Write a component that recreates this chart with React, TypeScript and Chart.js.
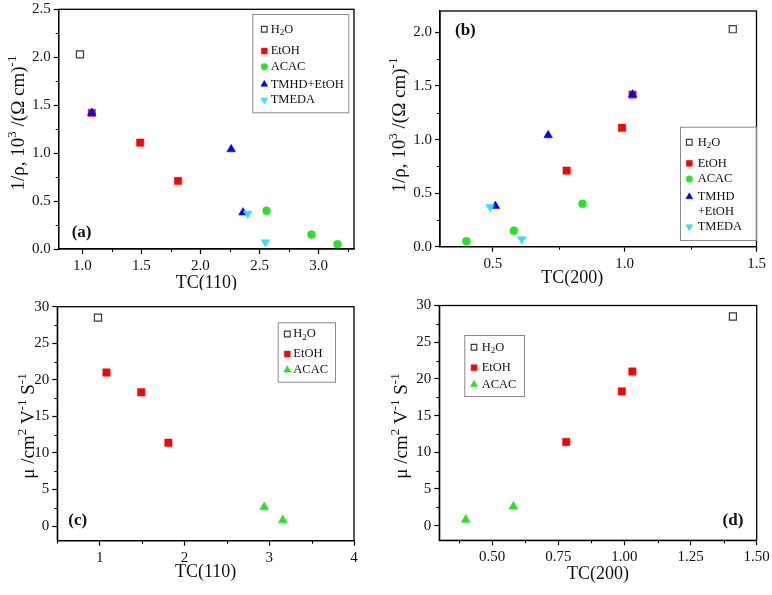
import React, { useEffect, useRef } from 'react';
import { Chart, registerables } from 'chart.js';
import { drawPoint } from 'chart.js/helpers';

Chart.register(...registerables);

// ---------------- data ----------------
const seriesNames = ['H₂O', 'EtOH', 'ACAC', 'TMHD+EtOH', 'TMEDA'];

// TC(110) of each sample
const tc110_H2O = [0.98];
const tc110_EtOH = [1.08, 1.49, 1.81];
const tc110_ACAC = [2.56, 2.94, 3.16];
const tc110_TMHD = [1.08, 2.26, 2.36];
const tc110_TMEDA = [2.40, 2.55];

// TC(200) of each sample
const tc200_H2O = [1.41];
const tc200_EtOH = [1.03, 0.99, 0.78];
const tc200_ACAC = [0.84, 0.58, 0.40];
const tc200_TMHD = [1.03, 0.71, 0.51];
const tc200_TMEDA = [0.49, 0.61];

// conductivity 1/rho, 10^3 (Ohm cm)^-1
const cond_H2O = [2.03];
const cond_EtOH = [1.42, 1.11, 0.71];
const cond_ACAC = [0.40, 0.15, 0.05];
const cond_TMHD = [1.42, 1.04, 0.38];
const cond_TMEDA = [0.37, 0.07];

// mobility cm^2 V^-1 s^-1 (ACAC only for two samples)
const mob_H2O = [28.5];
const mob_EtOH = [21.0, 18.3, 11.4];
const mob_tc110_ACAC = [2.94, 3.16];
const mob_tc200_ACAC = [0.58, 0.40];
const mob_ACAC = [2.6, 0.8];

// tick labels
const ticksA_x = [1.0, 1.5, 2.0, 2.5, 3.0];
const ticksA_y = [0, 0.5, 1.0, 1.5, 2.0, 2.5];
const ticksB_x = [0.5, 1.0, 1.5];
const ticksB_y = [0, 0.5, 1.0, 1.5, 2.0];
const ticksC_x = [1, 2, 3, 4];
const ticksC_y = [0, 5, 10, 15, 20, 25, 30];
const ticksD_x = [0.5, 0.75, 1.0, 1.25, 1.5];
const ticksD_y = [0, 5, 10, 15, 20, 25, 30];

// ---------------- styles ----------------
const FAMILY = "'Liberation Serif', 'DejaVu Serif', 'Times New Roman', serif";
Chart.defaults.font.family = FAMILY;

const GREEN = '#22e622';
const CYAN = '#2fe3f2';
const ST: Record<string, any> = {
  H2O: { pointStyle: 'rect', backgroundColor: 'rgba(255,255,255,0)', borderColor: '#3a3a3a', borderWidth: 1.2, pointRadius: 5, order: 5 },
  EtOH: { pointStyle: 'rect', backgroundColor: '#ff0000', borderColor: '#ff0000', borderWidth: 0.5, pointRadius: 5.2, order: 4 },
  ACAC: { pointStyle: 'circle', backgroundColor: GREEN, borderColor: GREEN, borderWidth: 0.5, pointRadius: 4, order: 3 },
  ACACtri: { pointStyle: 'triangle', backgroundColor: GREEN, borderColor: GREEN, borderWidth: 0.5, pointRadius: 5.2, order: 3 },
  TMHD: { pointStyle: 'triangle', backgroundColor: '#0000ff', borderColor: '#0000ff', borderWidth: 0.5, pointRadius: 5, order: 2 },
  TMEDA: { pointStyle: 'triangle', pointRotation: 180, backgroundColor: CYAN, borderColor: CYAN, borderWidth: 0.5, pointRadius: 5, order: 1 },
};

function series(label: string, xs: number[], ys: number[], style: any) {
  return {
    label,
    data: xs.map((x, i) => ({ x, y: ys[i] })),
    showLine: false,
    pointBackgroundColor: style.backgroundColor,
    pointBorderColor: style.borderColor,
    pointBorderWidth: style.borderWidth,
    pointHoverRadius: style.pointRadius,
    ...style,
  };
}

// ---------------- rich text ----------------
const SUP: Record<string, string> = { '⁰': '0', '¹': '1', '²': '2', '³': '3', '⁴': '4', '⁵': '5', '⁶': '6', '⁷': '7', '⁸': '8', '⁹': '9', '⁻': '-' };
const SUB: Record<string, string> = { '₀': '0', '₁': '1', '₂': '2', '₃': '3', '₄': '4', '₅': '5', '₆': '6', '₇': '7', '₈': '8', '₉': '9' };

function parseRich(s: string) {
  const segs: { t: string; k: string }[] = [];
  for (const ch of s) {
    let k = 'n';
    let t = ch;
    if (SUP[ch] !== undefined) { k = 'sup'; t = SUP[ch]; }
    else if (SUB[ch] !== undefined) { k = 'sub'; t = SUB[ch]; }
    const last = segs[segs.length - 1];
    if (last && last.k === k) last.t += t;
    else segs.push({ t, k });
  }
  return segs;
}

function drawRich(ctx: CanvasRenderingContext2D, s: string, x: number, y: number, size: number, align: string, weight = 'normal') {
  const segs = parseRich(s);
  const fontFor = (k: string) => `${weight} ${k === 'n' ? size : Math.round(size * 0.68)}px ${FAMILY}`;
  let total = 0;
  const widths = segs.map((sg) => {
    ctx.font = fontFor(sg.k);
    const w = ctx.measureText(sg.t).width;
    total += w;
    return w;
  });
  let cx = align === 'center' ? x - total / 2 : align === 'right' ? x - total : x;
  ctx.textBaseline = 'middle';
  ctx.textAlign = 'left';
  segs.forEach((sg, i) => {
    ctx.font = fontFor(sg.k);
    const dy = sg.k === 'sup' ? -size * 0.33 : sg.k === 'sub' ? size * 0.3 : 0;
    ctx.fillText(sg.t, cx, y + dy);
    cx += widths[i];
  });
}

function minorsOf(major: number[], min: number, max: number) {
  const out: number[] = [];
  const step = major[1] - major[0];
  const first = major[0] - step / 2;
  for (let v = first; v <= max + 1e-9; v += step) {
    if (v >= min - 1e-9 && !major.some((m) => Math.abs(m - v) < 1e-9)) out.push(v);
  }
  return out;
}

// ---------------- panels ----------------
type Panel = any;

const panels: Panel[] = [
  {
    id: 'a', left: 0, top: 0, w: 386, h: 290,
    area: { l: 58.7, r: 354, t: 9.3, b: 249 },
    xMin: 0.8, xMax: 3.3, yMin: 0, yMax: 2.5,
    xTicks: ticksA_x, yTicks: ticksA_y, xDigits: 1, yDigits: 1,
    xTitle: 'TC(110)', xTitleDx: 0, xTitleDy: 34,
    yTitle: '1/ρ, 10³ /(Ω cm)⁻¹', yTitleX: 19, yTitleY: 123,
    tag: '(a)', tagX: 71.7, tagY: 233, tagAlign: 'left',
    legend: { x: 252.3, y: 14, w: 96, h: 98.3, mdx: 12, tdx: 18.4, rows: [15.3, 37, 52.7, 70.3, 86], wrap: false },
    datasets: [
      series(seriesNames[0], tc110_H2O, cond_H2O, ST.H2O),
      series(seriesNames[1], tc110_EtOH, cond_EtOH, ST.EtOH),
      series(seriesNames[2], tc110_ACAC, cond_ACAC, ST.ACAC),
      series(seriesNames[3], tc110_TMHD, cond_TMHD, ST.TMHD),
      series(seriesNames[4], tc110_TMEDA, cond_TMEDA, ST.TMEDA),
    ],
  },
  {
    id: 'b', left: 386, top: 0, w: 386, h: 290,
    area: { l: 54, r: 370.5, t: 11, b: 246.7 },
    xMin: 0.3, xMax: 1.5, yMin: 0, yMax: 2.2,
    xTicks: ticksB_x, yTicks: ticksB_y, xDigits: 1, yDigits: 1,
    xTitle: 'TC(200)', xTitleDx: -26, xTitleDy: 31.5,
    yTitle: '1/ρ, 10³ /(Ω cm)⁻¹', yTitleX: 14, yTitleY: 125,
    tag: '(b)', tagX: 69, tagY: 30.7, tagAlign: 'left',
    legend: { x: 294, y: 126.7, w: 76, h: 113.3, mdx: 9.3, tdx: 17.7, rows: [15.6, 36.6, 52.3, 70, 100], wrap: true, lineGap: 15.3 },
    datasets: [
      series(seriesNames[0], tc200_H2O, cond_H2O, ST.H2O),
      series(seriesNames[1], tc200_EtOH, cond_EtOH, ST.EtOH),
      series(seriesNames[2], tc200_ACAC, cond_ACAC, ST.ACAC),
      series(seriesNames[3], tc200_TMHD, cond_TMHD, ST.TMHD),
      series(seriesNames[4], tc200_TMEDA, cond_TMEDA, ST.TMEDA),
    ],
  },
  {
    id: 'c', left: 0, top: 290, w: 386, h: 305,
    area: { l: 57.3, r: 354, t: 16.7, b: 250.7 },
    xMin: 0.5, xMax: 4, yMin: -2, yMax: 30,
    xTicks: ticksC_x, yTicks: ticksC_y, xDigits: 0, yDigits: 0,
    xTitle: 'TC(110)', xTitleDx: 0, xTitleDy: 32,
    yTitle: 'μ /cm² V⁻¹ S⁻¹', yTitleX: 29, yTitleY: 136,
    tag: '(c)', tagX: 68.3, tagY: 230.7, tagAlign: 'left',
    legend: { x: 277.7, y: 32.3, w: 57.3, h: 59.4, mdx: 9.6, tdx: 15.6, rows: [11.7, 31.7, 47.7], wrap: false },
    datasets: [
      series(seriesNames[0], tc110_H2O, mob_H2O, ST.H2O),
      series(seriesNames[1], tc110_EtOH, mob_EtOH, ST.EtOH),
      series(seriesNames[2], mob_tc110_ACAC, mob_ACAC, ST.ACACtri),
    ],
  },
  {
    id: 'd', left: 386, top: 290, w: 386, h: 305,
    area: { l: 53.3, r: 370.7, t: 15.5, b: 250.3 },
    xMin: 0.3, xMax: 1.5, yMin: -2, yMax: 30,
    xTicks: ticksD_x, yTicks: ticksD_y, xDigits: 2, yDigits: 0,
    xTitle: 'TC(200)', xTitleDx: 0, xTitleDy: 34,
    yTitle: 'μ /cm² V⁻¹ S⁻¹', yTitleX: 16, yTitleY: 136,
    tag: '(d)', tagX: 357.3, tagY: 230.7, tagAlign: 'right',
    legend: { x: 78.3, y: 45, w: 59.7, h: 61, mdx: 9.7, tdx: 17.4, rows: [12.3, 32.7, 49.3], wrap: false },
    datasets: [
      series(seriesNames[0], tc200_H2O, mob_H2O, ST.H2O),
      series(seriesNames[1], tc200_EtOH, mob_EtOH, ST.EtOH),
      series(seriesNames[2], mob_tc200_ACAC, mob_ACAC, ST.ACACtri),
    ],
  },
];

function decoPlugin(p: Panel) {
  return {
    id: 'deco_' + p.id,
    afterDraw(chart: any) {
      const ctx: CanvasRenderingContext2D = chart.ctx;
      const ca = chart.chartArea;
      const xs = chart.scales.x;
      const ys = chart.scales.y;
      ctx.save();
      // frame
      ctx.strokeStyle = '#000';
      ctx.lineWidth = 1.3;
      ctx.strokeRect(ca.left, ca.top, ca.right - ca.left, ca.bottom - ca.top);
      // minor ticks
      ctx.lineWidth = 1;
      ctx.beginPath();
      for (const v of minorsOf(p.xTicks, p.xMin, p.xMax)) {
        const px = Math.round(xs.getPixelForValue(v)) + 0.5;
        ctx.moveTo(px, ca.bottom);
        ctx.lineTo(px, ca.bottom + 3);
      }
      for (const v of minorsOf(p.yTicks, p.yMin, p.yMax)) {
        const py = Math.round(ys.getPixelForValue(v)) + 0.5;
        ctx.moveTo(ca.left, py);
        ctx.lineTo(ca.left - 3, py);
      }
      ctx.stroke();

      ctx.fillStyle = '#111';
      // x title
      drawRich(ctx, p.xTitle, (ca.left + ca.right) / 2 + p.xTitleDx, ca.bottom + p.xTitleDy, 18, 'center');
      // y title
      ctx.save();
      ctx.translate(p.yTitleX, p.yTitleY);
      ctx.rotate(-Math.PI / 2);
      drawRich(ctx, p.yTitle, 0, 0, 19, 'center');
      ctx.restore();
      // panel tag
      drawRich(ctx, p.tag, p.tagX, p.tagY, 17, p.tagAlign, 'bold');

      // legend
      const lg = p.legend;
      ctx.strokeStyle = '#8a8a8a';
      ctx.lineWidth = 1;
      ctx.strokeRect(lg.x + 0.5, lg.y + 0.5, lg.w, lg.h);
      chart.data.datasets.forEach((ds: any, i: number) => {
        const ry = lg.y + lg.rows[i];
        ctx.fillStyle = ds.backgroundColor;
        ctx.strokeStyle = ds.borderColor;
        ctx.lineWidth = ds.borderWidth;
        drawPoint(ctx, {
          pointStyle: ds.pointStyle,
          rotation: ds.pointRotation || 0,
          radius: ds.pointRadius * 0.8,
          borderWidth: ds.borderWidth,
        } as any, lg.x + lg.mdx, ry);
        ctx.fillStyle = '#111';
        const lines = lg.wrap ? ds.label.replace('+', '\n+').split('\n') : [ds.label];
        lines.forEach((ln: string, j: number) => {
          drawRich(ctx, ln, lg.x + lg.tdx, ry + j * (lg.lineGap || 15), 12.5, 'left');
        });
      });
      ctx.restore();
    },
  };
}

function PanelChart({ p }: { p: Panel }) {
  const ref = useRef<HTMLCanvasElement | null>(null);
  useEffect(() => {
    if (!ref.current) return;
    const a = p.area;
    const tickFont = { size: 15, family: FAMILY };
    const chart = new Chart(ref.current, {
      type: 'scatter',
      data: { datasets: p.datasets },
      options: {
        responsive: false,
        animation: false,
        events: [],
        layout: { padding: { left: 0, top: a.t, right: p.w - a.r, bottom: 0 } },
        plugins: { legend: { display: false }, tooltip: { enabled: false } },
        scales: {
          x: {
            type: 'linear',
            position: 'bottom',
            min: p.xMin,
            max: p.xMax,
            afterBuildTicks: (s: any) => { s.ticks = p.xTicks.map((v: number) => ({ value: v })); },
            afterFit: (s: any) => { s.height = p.h - a.b; s.paddingLeft = 0; s.paddingRight = 0; },
            ticks: {
              autoSkip: false, maxRotation: 0, padding: 3, color: '#111', font: tickFont,
              callback: (v: any) => Number(v).toFixed(p.xDigits),
            },
            grid: { drawOnChartArea: false, drawTicks: true, tickLength: 5, tickColor: '#000', tickWidth: 1.2 },
            border: { display: true, color: '#000', width: 1.3 },
          },
          y: {
            type: 'linear',
            position: 'left',
            min: p.yMin,
            max: p.yMax,
            afterBuildTicks: (s: any) => { s.ticks = p.yTicks.map((v: number) => ({ value: v })); },
            afterFit: (s: any) => { s.width = a.l; s.paddingTop = 0; s.paddingBottom = 0; },
            ticks: {
              autoSkip: false, padding: 3, color: '#111', font: tickFont,
              callback: (v: any) => Number(v).toFixed(p.yDigits),
            },
            grid: { drawOnChartArea: false, drawTicks: true, tickLength: 5, tickColor: '#000', tickWidth: 1.2 },
            border: { display: true, color: '#000', width: 1.3 },
          },
        },
      } as any,
      plugins: [decoPlugin(p)],
    });
    return () => chart.destroy();
  }, [p]);
  return (
    <canvas
      ref={ref}
      width={p.w}
      height={p.h}
      style={{ position: 'absolute', left: p.left, top: p.top, width: p.w, height: p.h }}
    />
  );
}

export default function App() {
  return (
    <div style={{ position: 'absolute', left: 0, top: 0, width: 772, height: 595, background: '#fff' }}>
      {panels.map((p) => (
        <PanelChart key={p.id} p={p} />
      ))}
    </div>
  );
}
